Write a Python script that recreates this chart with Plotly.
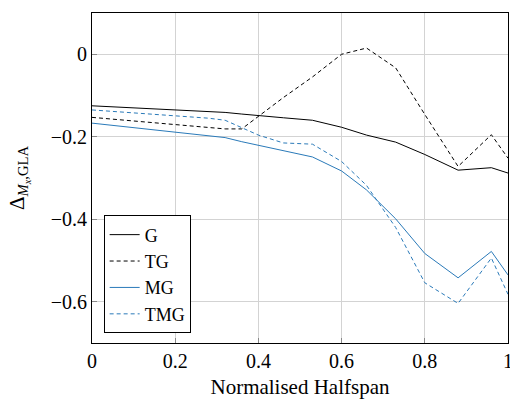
import plotly.graph_objects as go

span = [0, 0.28, 0.32, 0.36, 0.40, 0.46, 0.53, 0.60, 0.66, 0.73, 0.80, 0.88, 0.96, 1.0]
g_vals = [-0.125, -0.138, -0.141, -0.145, -0.149, -0.154, -0.160, -0.177, -0.196, -0.213, -0.243, -0.281, -0.275, -0.288]
tg_vals = [-0.153, -0.176, -0.181, -0.181, -0.150, -0.105, -0.055, 0.0, 0.015, -0.033, -0.146, -0.272, -0.195, -0.252]
mg_vals = [-0.167, -0.198, -0.202, -0.212, -0.221, -0.234, -0.249, -0.283, -0.329, -0.399, -0.483, -0.542, -0.478, -0.535]
tmg_vals = [-0.135, -0.155, -0.160, -0.178, -0.196, -0.215, -0.218, -0.260, -0.318, -0.420, -0.554, -0.604, -0.494, -0.582]

BLUE = "#2a7ab9"
series = [
    ("G", g_vals, "black", "solid"),
    ("TG", tg_vals, "black", "4px,3px"),
    ("MG", mg_vals, BLUE, "solid"),
    ("TMG", tmg_vals, BLUE, "4px,3px"),
]

fig = go.Figure()
for name, vals, color, dash in series:
    fig.add_trace(go.Scatter(x=span, y=vals, mode="lines", name=name,
                             line=dict(color=color, width=1, dash=dash)))

font = "'Liberation Serif', 'DejaVu Serif', serif"
axis_common = dict(showgrid=True, gridcolor="#d3d3d3", gridwidth=1,
                   showline=True, linecolor="black", linewidth=1, mirror=True,
                   ticks="inside", ticklen=5, tickcolor="#888888",
                   zeroline=False, ticklabeloverflow="allow", automargin=False,
                   tickfont=dict(family=font, size=20, color="black"))

fig.update_layout(
    width=510, height=400,
    margin=dict(l=92, r=2, t=13, b=57),
    plot_bgcolor="white", paper_bgcolor="white",
    font=dict(family=font, size=20, color="black"),
    xaxis=dict(range=[0, 1], tickvals=[0, 0.2, 0.4, 0.6, 0.8, 1],
               ticktext=["0", "0.2", "0.4", "0.6", "0.8", "1"],
               title=dict(text="Normalised Halfspan", font=dict(family=font, size=21), standoff=8),
               **axis_common),
    yaxis=dict(range=[-0.7, 0.1], tickvals=[-0.6, -0.4, -0.2, 0],
               ticktext=["\u22120.6", "\u22120.4", "\u22120.2", "0"],
               title=dict(text="\u0394<sub><i>M</i><sub><i>x</i></sub>,GLA</sub>", font=dict(family=font, size=21), standoff=20),
               **axis_common),
    legend=dict(x=0.028, y=0.029, xanchor="left", yanchor="bottom",
                bgcolor="white", bordercolor="black", borderwidth=1,
                font=dict(family=font, size=18), tracegroupgap=0,
                entrywidth=78, entrywidthmode="pixels"),
    showlegend=True,
)

fig.write_html("out.html")
